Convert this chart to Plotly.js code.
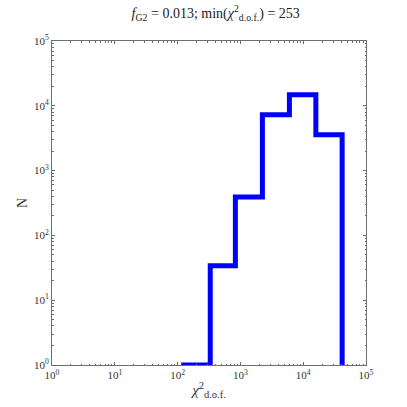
<!DOCTYPE html>
<html>
<head>
<meta charset="utf-8">
<script src="https://cdn.plot.ly/plotly-3.0.1.min.js"></script>
<style>
  html, body { margin: 0; padding: 0; background: #fff; }
  #plot { width: 407px; height: 407px; }
</style>
</head>
<body>
<div id="plot"></div>
<script>
// histogram bin edges (chi2 d.o.f.) and counts
const binEdges = [114, 331, 832, 2240, 6030, 15900, 41700];
const binCounts = [1, 34, 390, 7300, 14800, 3560];
const floorCount = 1;

const decades = [0, 1, 2, 3, 4, 5];
const tickVals = decades.map(d => Math.pow(10, d));
const tickText = decades.map(d => "10<sup>" + d + "</sup>");

// step outline: horizontal at each count, then drop to the next
const stepX = binEdges.slice();
const stepY = binCounts.concat([floorCount]);

const serif = "Liberation Serif, DejaVu Serif, serif";
const axisColor = "#6e6e6e";

function logAxis(extra) {
    return Object.assign({
        type: "log",
        range: [0, 5],
        tickvals: tickVals,
        ticktext: tickText,
        ticks: "inside",
        ticklen: 3,
        tickwidth: 1,
        tickcolor: axisColor,
        minor: { ticks: "inside", ticklen: 1.5, tickcolor: axisColor, dtick: "D1" },
        showline: true,
        linecolor: axisColor,
        linewidth: 1,
        mirror: "allticks",
        showgrid: false,
        zeroline: false,
        tickfont: { family: serif, size: 11, color: "#333" }
    }, extra);
}

Plotly.newPlot("plot", [{
    x: stepX,
    y: stepY,
    mode: "lines",
    line: { shape: "hv", color: "#0000ff", width: 5 },
    hoverinfo: "skip"
}], {
    width: 407,
    height: 407,
    margin: { l: 52, r: 41, t: 41, b: 42 },
    paper_bgcolor: "#fff",
    plot_bgcolor: "#fff",
    showlegend: false,
    title: {
        text: "<i>f</i><sub>G2</sub> = 0.013; min(<i>χ</i><sup>2</sup><sub>d.o.f.</sub>) = 253",
        font: { family: serif, size: 14, color: "#222" },
        x: 0.53,
        xanchor: "center",
        y: 0.968,
        yanchor: "middle"
    },
    xaxis: logAxis({
        title: { text: "<i>χ</i><sup>2</sup><sub>d.o.f.</sub>", font: { family: serif, size: 15, color: "#333" }, standoff: 4 }
    }),
    yaxis: logAxis({
        title: { text: "N", font: { family: serif, size: 14, color: "#333" }, standoff: 3 }
    })
}, { displayModeBar: false, staticPlot: true });
</script>
</body>
</html>
